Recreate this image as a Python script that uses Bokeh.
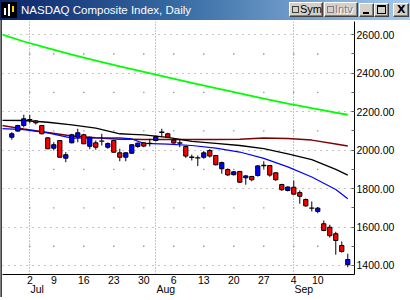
from bokeh.plotting import figure
from bokeh.models import Range1d, FixedTicker, LinearAxis, NumeralTickFormatter, Div
from bokeh.layouts import column, row
from bokeh.embed import file_html
from bokeh.resources import INLINE

# ---------------- data ----------------
dates = ["2001-06-27", "2001-06-28", "2001-06-29",
         "2001-07-02", "2001-07-03", "2001-07-05", "2001-07-06",
         "2001-07-09", "2001-07-10", "2001-07-11", "2001-07-12", "2001-07-13",
         "2001-07-16", "2001-07-17", "2001-07-18", "2001-07-19", "2001-07-20",
         "2001-07-23", "2001-07-24", "2001-07-25", "2001-07-26", "2001-07-27",
         "2001-07-30", "2001-07-31", "2001-08-01", "2001-08-02", "2001-08-03",
         "2001-08-06", "2001-08-07", "2001-08-08", "2001-08-09", "2001-08-10",
         "2001-08-13", "2001-08-14", "2001-08-15", "2001-08-16", "2001-08-17",
         "2001-08-20", "2001-08-21", "2001-08-22", "2001-08-23", "2001-08-24",
         "2001-08-27", "2001-08-28", "2001-08-29", "2001-08-30", "2001-08-31",
         "2001-09-04", "2001-09-05", "2001-09-06", "2001-09-07",
         "2001-09-10",
         "2001-09-17", "2001-09-18", "2001-09-19", "2001-09-20", "2001-09-21"]

opens = [2067, 2099, 2128,
         2158, 2152, 2128, 2064,
         2010, 2050, 1958, 2038, 2067,
         2080, 2020, 2038, 2047, 2015,
         2050, 1986, 1963, 1984, 2019,
         2038, 2035, 2050, 2093, 2085,
         2052, 2037, 2019, 1963, 1960,
         1963, 1998, 1972, 1903, 1899,
         1872, 1889, 1856, 1863, 1868,
         1920, 1920, 1882, 1821, 1790,
         1807, 1779, 1743, 1698,
         1681,
         1617, 1599, 1565, 1504, 1404]
highs = [2093, 2132, 2184,
         2183, 2156, 2131, 2066,
         2041, 2052, 1989, 2085, 2111,
         2085, 2069, 2050, 2085, 2040,
         2052, 2007, 1988, 2030, 2040,
         2040, 2059, 2076, 2111, 2090,
         2057, 2055, 2022, 1977, 1972,
         1995, 2005, 1975, 1940, 1905,
         1892, 1892, 1870, 1866, 1922,
         1942, 1922, 1885, 1825, 1812,
         1842, 1790, 1748, 1733,
         1704,
         1634, 1612, 1575, 1525, 1461]
lows = [2054, 2096, 2118,
        2140, 2133, 2082, 2005,
        1998, 1961, 1937, 2035, 2041,
        2031, 2005, 2002, 2024, 2007,
        1987, 1942, 1942, 1980, 2012,
        2015, 2019, 2045, 2067, 2062,
        2033, 2015, 1960, 1946, 1917,
        1955, 1962, 1920, 1877, 1866,
        1868, 1829, 1820, 1838, 1862,
        1903, 1862, 1840, 1788, 1785,
        1768, 1721, 1705, 1681,
        1672,
        1578, 1545, 1456, 1467, 1391]
closes = [2085, 2128, 2163,
          2158, 2142, 2085, 2007,
          2028, 1963, 1976, 2080, 2090,
          2033, 2067, 2015, 2047, 2034,
          1989, 1963, 1986, 2028, 2036,
          2021, 2035, 2071, 2093, 2067,
          2037, 2037, 1969, 1963, 1960,
          1986, 1969, 1924, 1935, 1871,
          1887, 1833, 1866, 1846, 1918,
          1920, 1870, 1846, 1794, 1808,
          1771, 1760, 1710, 1698,
          1698,
          1582, 1555, 1530, 1473, 1431]

# moving averages sampled at trading-day offsets (0 = Jul 2)
ma_days = [-5, -1, 3, 7, 11, 15, 17, 19, 23, 27, 31, 35, 39, 43, 47, 51, 53]
ma_green = [2605, 2565, 2530, 2497, 2465, 2435, 2421, 2407, 2378, 2350, 2322, 2295, 2268, 2242, 2218, 2195, 2184]
ma_darkred = [2130, 2110, 2092, 2074, 2064, 2057, 2056, 2055, 2055, 2055, 2055, 2056, 2063, 2060, 2052, 2032, 2022]
ma_black = [2155, 2154, 2145, 2131, 2114, 2085, 2082, 2079, 2066, 2045, 2035, 2024, 2008, 1981, 1950, 1900, 1870]
ma_blue = [2112, 2107, 2090, 2062, 2063, 2064, 2058, 2035, 2031, 2024, 2010, 1990, 1957, 1913, 1860, 1795, 1747]

week_dates = ["2001-07-02", "2001-07-09", "2001-07-16", "2001-07-23", "2001-07-30",
              "2001-08-06", "2001-08-13", "2001-08-20", "2001-08-27",
              "2001-09-04", "2001-09-10"]
week_labels = ["2", "9", "16", "23", "30", "6", "13", "20", "27", "4", "10"]
month_dates = ["2001-07-02", "2001-08-01", "2001-09-04"]
month_labels = ["Jul", "Aug", "Sep"]
y_ticks = [1400, 1600, 1800, 2000, 2200, 2400, 2600]
y_minor = [1500, 1700, 1900, 2100, 2300, 2500]

# ---------------- derived positions ----------------
PX_PER_DAY = 6.0
origin = dates.index("2001-07-02")
xs = [i - origin for i in range(len(dates))]
week_x = [dates.index(d) - origin for d in week_dates]
month_x = [dates.index(d) - origin for d in month_dates]

# month names are left-aligned at the first trading day of the month:
# shift each centred label by half its rendered width (Liberation Sans 10.5px)
CHAR_W = {"J": 5.25, "u": 5.84, "l": 2.33, "A": 7.0, "g": 5.84, "S": 7.0, "e": 5.84, "p": 5.84}
month_tick = [mx + sum(CHAR_W[ch] for ch in lab) / 2 / PX_PER_DAY + 0.1
              for mx, lab in zip(month_x, month_labels)]

body_x, body_top, body_bot, body_col = [], [], [], []
doji_x0, doji_x1, doji_y = [], [], []
for x, o, c in zip(xs, opens, closes):
    if o == c:
        doji_x0.append(x - 0.42)
        doji_x1.append(x + 0.42)
        doji_y.append(c)
    else:
        body_x.append(x)
        body_top.append(max(o, c))
        body_bot.append(min(o, c))
        body_col.append("#0000FF" if c > o else "#FF0000")

FONT = "Liberation Sans"

p = figure(width=408, height=277, output_backend="svg", toolbar_location=None,
           x_range=Range1d(-4.55, 54.12), y_range=Range1d(1353, 2669),
           y_axis_location="right", min_border_left=0, min_border_right=56,
           min_border_top=1, min_border_bottom=23)
p.margin = 0
p.outline_line_color = None
p.background_fill_color = "white"
p.border_fill_color = "white"

# y axis
p.yaxis.ticker = FixedTicker(ticks=y_ticks, minor_ticks=y_minor)
p.yaxis.formatter = NumeralTickFormatter(format="0.00")
p.yaxis.axis_line_color = "black"
p.yaxis.major_tick_in = 3
p.yaxis.major_tick_out = 0
p.yaxis.minor_tick_in = 3
p.yaxis.minor_tick_out = 0
p.yaxis.major_tick_line_color = "#606060"
p.yaxis.minor_tick_line_color = "#606060"
p.yaxis.major_label_standoff = 2
p.yaxis.major_label_text_font = FONT
p.yaxis.major_label_text_font_size = "10.5px"
p.yaxis.major_label_text_color = "black"

# x axis: day numbers
xa = p.xaxis[0]
xa.ticker = FixedTicker(ticks=week_x)
xa.major_label_overrides = {x: l for x, l in zip(week_x, week_labels)}
xa.axis_line_color = "black"
xa.major_tick_line_color = None
xa.minor_tick_line_color = None
xa.major_tick_in = 0
xa.major_tick_out = 0
xa.major_label_standoff = 1
xa.major_label_text_font = FONT
xa.major_label_text_font_size = "10.5px"
xa.major_label_text_color = "black"

# x axis: month names
ma = LinearAxis(ticker=FixedTicker(ticks=month_tick),
                major_label_overrides={x: l for x, l in zip(month_tick, month_labels)})
ma.axis_line_color = None
ma.major_tick_line_color = None
ma.minor_tick_line_color = None
ma.major_tick_in = 0
ma.major_tick_out = 0
ma.major_label_standoff = -4
ma.major_label_text_font = FONT
ma.major_label_text_font_size = "10.5px"
ma.major_label_text_color = "black"
p.add_layout(ma, "below")

# grids
p.ygrid.grid_line_color = "#8C8C8C"
p.ygrid.grid_line_dash = "1 5"
p.xgrid.ticker = FixedTicker(ticks=month_x)
p.xgrid.grid_line_color = "#8C8C8C"
p.xgrid.grid_line_dash = "1 2"

dot_x = [wx for wx in week_x for _ in y_minor]
dot_y = [yv for _ in week_x for yv in y_minor]
p.scatter(dot_x, dot_y, marker="square", size=1.3, fill_color="#8C8C8C", line_color=None)

# moving averages
p.line(ma_days, ma_green, line_color="#00FF00", line_width=1.8)
p.line(ma_days, ma_darkred, line_color="#800000", line_width=1.5)
p.line(ma_days, ma_black, line_color="black", line_width=1.3)
p.line(ma_days, ma_blue, line_color="#0000FF", line_width=1.2)

# candles
p.segment(x0=xs, y0=lows, x1=xs, y1=highs, line_color="black", line_width=1)
p.vbar(x=body_x, width=0.7, top=body_top, bottom=body_bot, fill_color=body_col,
       line_color="black", line_width=1)
p.segment(x0=doji_x0, y0=doji_y, x1=doji_x1, y1=doji_y, line_color="black", line_width=1.3)

# ---------------- window chrome ----------------
btn = ("position:absolute;box-sizing:border-box;background:#D4D0C8;"
       "border:1px solid;border-color:#FFFFFF #404040 #404040 #FFFFFF;"
       "box-shadow:inset -1px -1px #808080;")
title_html = f"""
<div style="position:relative;width:410px;height:20px;overflow:hidden;
background:linear-gradient(to right,#0A246A 0%,#3A6EA5 45%,#A6CAF0 100%);font-family:'{FONT}',sans-serif;">
 <div style="position:absolute;left:1px;top:2px;width:16px;height:16px;background:#000;">
  <div style="position:absolute;left:3px;top:6px;width:2px;height:7px;background:#fff"></div>
  <div style="position:absolute;left:7px;top:2px;width:2px;height:12px;background:#fff"></div>
  <div style="position:absolute;left:11px;top:4px;width:2px;height:6px;background:#FFD800"></div>
 </div>
 <div style="position:absolute;left:21px;top:3px;color:#fff;font-size:11.5px;line-height:14px;white-space:nowrap;">NASDAQ Composite Index, Daily</div>
 <div style="{btn}left:289px;top:2px;width:34px;height:15px;">
  <div style="position:absolute;left:2px;top:3px;width:7px;height:7px;box-sizing:border-box;border:1px solid #404040;background:#D4D0C8"></div>
  <div style="position:absolute;left:10px;top:0px;font-size:11px;line-height:13px;color:#000;">Sym</div>
 </div>
 <div style="{btn}left:324px;top:2px;width:34px;height:15px;">
  <div style="position:absolute;left:2px;top:3px;width:7px;height:7px;box-sizing:border-box;border:1px solid #808080;background:#D4D0C8"></div>
  <div style="position:absolute;left:10px;top:0px;font-size:11px;line-height:13px;color:#808080;text-shadow:1px 1px #fff;">Intv</div>
 </div>
 <div style="{btn}left:359px;top:3px;width:15px;height:14px;">
  <div style="position:absolute;left:3px;top:8px;width:6px;height:2px;background:#000"></div>
 </div>
 <div style="{btn}left:374px;top:3px;width:15px;height:14px;">
  <div style="position:absolute;left:2px;top:1px;width:9px;height:9px;box-sizing:border-box;border:1px solid #000;border-top-width:2px;"></div>
 </div>
 <div style="{btn}left:393px;top:3px;width:16px;height:14px;">
  <div style="position:absolute;left:3px;top:-1px;font-family:'DejaVu Sans';font-weight:bold;font-size:11px;line-height:13px;color:#000;">X</div>
 </div>
</div>
"""
title_div = Div(text=title_html, width=410, height=20, margin=0)
left_div = Div(text='<div style="width:2px;height:277px;background:linear-gradient(to right,#808080 0 1px,#404040 1px 2px);"></div>',
               width=2, height=277, margin=0)
bottom_div = Div(text='<div style="width:410px;height:3px;background:linear-gradient(to bottom,#808080 0 1px,#D4D0C8 1px 3px);"></div>',
                 width=410, height=3, margin=0)

layout = column(title_div, row(left_div, p, spacing=0, margin=0), bottom_div, spacing=0, margin=0)

open("out.html", "w").write(file_html(layout, INLINE))
